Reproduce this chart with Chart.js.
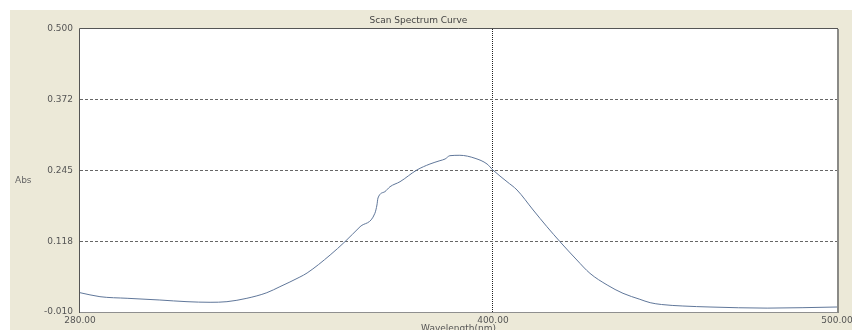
<!DOCTYPE html>
<html>
<head>
<meta charset="utf-8">
<script src="https://cdn.jsdelivr.net/npm/chart.js@4.4.1/dist/chart.umd.min.js"></script>
<style>
  html, body { margin: 0; padding: 0; background: #fff; }
  #wrap { width: 852px; height: 330px; }
</style>
</head>
<body>
<div id="wrap"><canvas id="spectre" width="852" height="330"></canvas></div>
<script>
// Données (longueur d'onde en nm, absorbance)
const wavelengths = [280.0, 285.8, 293.7, 303.2, 311.1, 317.8, 322.7, 328.5, 334.3, 338.1, 343.9, 346.0, 352.7, 357.0, 361.4, 365.7, 366.3, 366.6, 368.6, 370.1, 373.0, 377.9, 381.7, 384.6, 386.1, 387.5, 390.4, 394.8, 398.3, 400.0, 404.1, 407.0, 411.7, 415.7, 419.5, 424.4, 428.2, 433.2, 437.8, 442.7, 445.7, 449.0, 455.2, 463.1, 479.7, 500.0];
const absorbance  = [0.0248, 0.0176, 0.0147, 0.0116, 0.0086, 0.0075, 0.0086, 0.0147, 0.0248, 0.0356, 0.0530, 0.0603, 0.0927, 0.1167, 0.1437, 0.1679, 0.1828, 0.1954, 0.2068, 0.2158, 0.2248, 0.2459, 0.2567, 0.2627, 0.2657, 0.2717, 0.2724, 0.2670, 0.2567, 0.2459, 0.2248, 0.2099, 0.1738, 0.1437, 0.1167, 0.0837, 0.0597, 0.0387, 0.0237, 0.0129, 0.0068, 0.0035, 0.0008, -0.0010, -0.0030, -0.0010];

// Graduations des axes
const xTickValues = [280, 400, 500];
const yTickValues = [-0.010, 0.1175, 0.245, 0.3725, 0.500];
const yTickLabels = ['-0.010', '0.118', '0.245', '0.372', '0.500'];

const beige = '#ECE9D8';
const police = 'DejaVu Sans';

// Fond : bande blanche, panneau beige, zone de tracé blanche
const fondPlugin = {
    id: 'fond',
    beforeDraw(chart) {
        const { ctx, chartArea: a, width, height } = chart;
        ctx.save();
        ctx.fillStyle = '#fff';
        ctx.fillRect(0, 0, width, height);
        ctx.fillStyle = beige;
        ctx.fillRect(10, 10, width - 10, height - 10);
        ctx.fillStyle = '#fff';
        ctx.fillRect(a.left, a.top, a.right - a.left, a.bottom - a.top);
        ctx.restore();
    },
    afterDraw(chart) {
        const { ctx, chartArea: a } = chart;
        ctx.save();
        // cadre du tracé
        ctx.lineWidth = 1;
        ctx.strokeStyle = '#8f8f8f';
        ctx.beginPath();
        ctx.moveTo(a.left, a.bottom + 0.5);
        ctx.lineTo(a.right + 1, a.bottom + 0.5);
        ctx.stroke();
        ctx.lineWidth = 2;
        ctx.strokeStyle = '#8a8a86';
        ctx.beginPath();
        ctx.moveTo(a.right + 1, a.top);
        ctx.lineTo(a.right + 1, a.bottom + 1);
        ctx.stroke();
        ctx.lineWidth = 1;
        ctx.strokeStyle = '#555';
        ctx.beginPath();
        ctx.moveTo(a.left - 0.5, a.bottom + 1);
        ctx.lineTo(a.left - 0.5, a.top - 0.5);
        ctx.lineTo(a.right + 1, a.top - 0.5);
        ctx.stroke();
        // libellé "Abs"
        ctx.fillStyle = '#666';
        ctx.font = '9px "' + police + '"';
        ctx.textAlign = 'left';
        ctx.textBaseline = 'middle';
        ctx.fillText('Abs', 15, 181);
        ctx.restore();
    }
};

const points = wavelengths.map((x, i) => ({ x, y: absorbance[i] }));

new Chart(document.getElementById('spectre'), {
    type: 'line',
    data: {
        datasets: [{
            data: points,
            borderColor: '#60779a',
            borderWidth: 1,
            pointRadius: 0,
            fill: false,
            cubicInterpolationMode: 'monotone'
        }]
    },
    options: {
        responsive: false,
        animation: false,
        layout: { padding: { left: 0, top: 0, right: 15, bottom: 0 } },
        plugins: {
            legend: { display: false },
            tooltip: { enabled: false },
            title: {
                display: true,
                text: 'Scan Spectrum Curve',
                color: '#444',
                font: { family: police, size: 9, weight: 'normal' },
                padding: { top: 15.5, bottom: 2.7 }
            }
        },
        scales: {
            x: {
                type: 'linear',
                min: 280,
                max: 500,
                afterBuildTicks(scale) {
                    scale.ticks = xTickValues.map(v => ({ value: v }));
                },
                afterFit(scale) {
                    scale.height = 18;
                    scale.paddingLeft = 0;
                    scale.paddingRight = 0;
                },
                ticks: {
                    autoSkip: false,
                    maxRotation: 0,
                    padding: 3,
                    color: '#555',
                    font: { family: police, size: 9 },
                    callback: v => v.toFixed(2)
                },
                grid: {
                    drawTicks: false,
                    lineWidth: 1,
                    color: c => (c.tick && c.tick.value === 400) ? '#222' : 'rgba(0,0,0,0)'
                },
                border: { display: false, dash: [1, 1] },
                title: {
                    display: true,
                    text: 'Wavelength(nm)',
                    color: '#555',
                    font: { family: police, size: 9 },
                    padding: { top: 0, bottom: -4 }
                }
            },
            y: {
                min: -0.010,
                max: 0.500,
                afterBuildTicks(scale) {
                    scale.ticks = yTickValues.map(v => ({ value: v }));
                },
                afterFit(scale) {
                    scale.width = 80;
                },
                ticks: {
                    autoSkip: false,
                    padding: 7,
                    color: '#555',
                    font: { family: police, size: 9 },
                    callback: (v, i) => yTickLabels[i]
                },
                grid: {
                    drawTicks: false,
                    lineWidth: 1,
                    color: c => (c.index > 0 && c.index < yTickValues.length - 1) ? '#666' : 'rgba(0,0,0,0)'
                },
                border: { display: false, dash: [3, 2] }
            }
        }
    },
    plugins: [fondPlugin]
});
</script>
</body>
</html>
